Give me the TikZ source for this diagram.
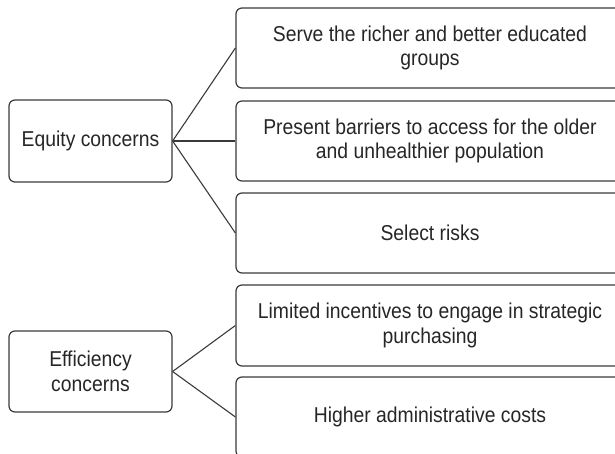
\documentclass[tikz,border=0pt]{standalone}
\usepackage{fontspec}
\setmainfont{Liberation Sans}[FakeStretch=0.9]
\definecolor{ln}{HTML}{3A3A3A}
\definecolor{tx}{HTML}{262626}
\tikzset{
  box/.style={draw=ln, line width=1.2pt, rounded corners=6pt, inner sep=0pt,
    align=center, text=tx, font=\fontsize{21.5}{24.5}\selectfont},
  leftbox/.style={box, minimum width=163pt},
  rightbox/.style={box, minimum width=388pt, minimum height=80pt},
  link/.style={draw=ln, line width=1.1pt}
}
\begin{document}
\begin{tikzpicture}[x=1pt,y=-1pt]
\useasboundingbox (0,0) rectangle (615,454);
\clip (0,0) rectangle (615,454);
\node[leftbox, minimum height=82pt] (eq) at (90.5,141) {Equity concerns};
\node[leftbox, minimum height=81pt] (ef) at (90.5,371.5) {Efficiency\\concerns};
\node[rightbox] (b1) at (430,48) {Serve the richer and better educated\\groups};
\node[rightbox] (b2) at (430,141) {Present barriers to access for the older\\and unhealthier population};
\node[rightbox] (b3) at (430,233) {Select risks};
\node[rightbox, minimum height=81pt] (b4) at (430,325.5) {Limited incentives to engage in strategic\\purchasing};
\node[rightbox] (b5) at (430,417) {Higher administrative costs};
\draw[link] (eq.east) -- (b1.west);
\draw[link] (eq.east) -- (b2.west);
\draw[link] (eq.east) -- (b3.west);
\draw[link] (ef.east) -- (b4.west);
\draw[link] (ef.east) -- (b5.west);
\end{tikzpicture}
\end{document}
